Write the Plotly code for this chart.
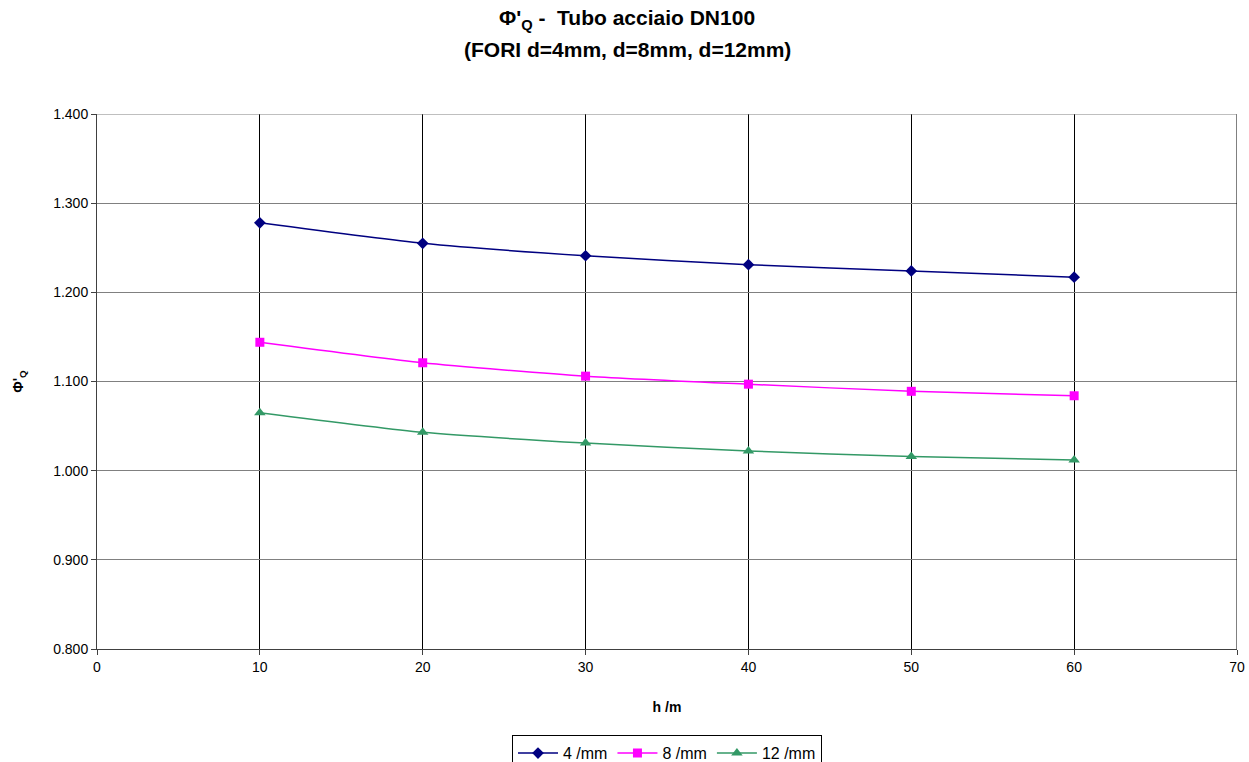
import plotly.graph_objects as go

h = [10, 20, 30, 40, 50, 60]
phi_4 = [1.278, 1.255, 1.241, 1.231, 1.224, 1.217]
phi_8 = [1.144, 1.121, 1.106, 1.097, 1.089, 1.084]
phi_12 = [1.065, 1.043, 1.031, 1.022, 1.016, 1.012]

series = [
    ("4 /mm", phi_4, "#000080", "diamond", 9),
    ("8 /mm", phi_8, "#FF00FF", "square", 9),
    ("12 /mm", phi_12, "#339966", "triangle-up", 10),
]

fig = go.Figure()
for name, vals, col, sym, sz in series:
    fig.add_trace(go.Scatter(
        x=h, y=vals, name=name, mode="lines+markers",
        line=dict(color=col, width=1.5, shape="spline", smoothing=0.6),
        marker=dict(symbol=sym, size=sz, color=col),
    ))

font = "Liberation Sans, Arial, sans-serif"
fig.update_layout(
    width=1249, height=762,
    margin=dict(l=97, r=12, t=114, b=113, autoexpand=False),
    paper_bgcolor="white", plot_bgcolor="white",
    font=dict(family=font, size=14, color="black"),
    title=dict(
        text="<b>Φ'<sub>Q</sub> -  Tubo acciaio DN100</b>",
        xref="container", x=0.502, xanchor="center",
        yref="container", y=1 - 18 / 762, yanchor="middle",
        font=dict(family=font, size=21, color="black"),
    ),
    xaxis=dict(
        range=[0, 70], tickvals=[0, 10, 20, 30, 40, 50, 60, 70],
        showgrid=True, gridcolor="black", gridwidth=1,
        showline=True, linecolor="#404040", linewidth=1,
        ticks="outside", ticklen=5, tickcolor="#404040",
        zeroline=False,
        title=dict(text="<b>h /m</b>", font=dict(size=14), standoff=28),
    ),
    yaxis=dict(
        range=[0.8, 1.4], tickvals=[0.8, 0.9, 1.0, 1.1, 1.2, 1.3, 1.4],
        tickformat=".3f",
        showgrid=True, gridcolor="#808080", gridwidth=1,
        showline=True, linecolor="#404040", linewidth=1,
        ticks="outside", ticklen=5, tickcolor="#404040",
        zeroline=False,
        title=dict(text="<b>Φ'<sub>Q</sub></b>", font=dict(size=14), standoff=26),
    ),
    legend=dict(
        orientation="h", x=0.5, xanchor="center", y=-0.161, yanchor="top",
        bordercolor="black", borderwidth=1, bgcolor="white",
        font=dict(size=16), itemwidth=40,
    ),
    showlegend=True,
)
fig.add_annotation(
    text="<b>(FORI d=4mm, d=8mm, d=12mm)</b>",
    xref="paper", yref="paper",
    x=(627.5 - 97) / 1140, xanchor="center",
    y=(649 - 50) / 535, yanchor="middle",
    showarrow=False, font=dict(family=font, size=21, color="black"),
)
fig.add_shape(type="line", xref="x", yref="y", x0=70, x1=70, y0=0.8, y1=1.4,
              line=dict(color="black", width=1))
fig.add_shape(type="line", xref="x", yref="y", x0=0, x1=70, y0=1.4, y1=1.4,
              line=dict(color="#808080", width=1))

fig.write_html("out.html")
